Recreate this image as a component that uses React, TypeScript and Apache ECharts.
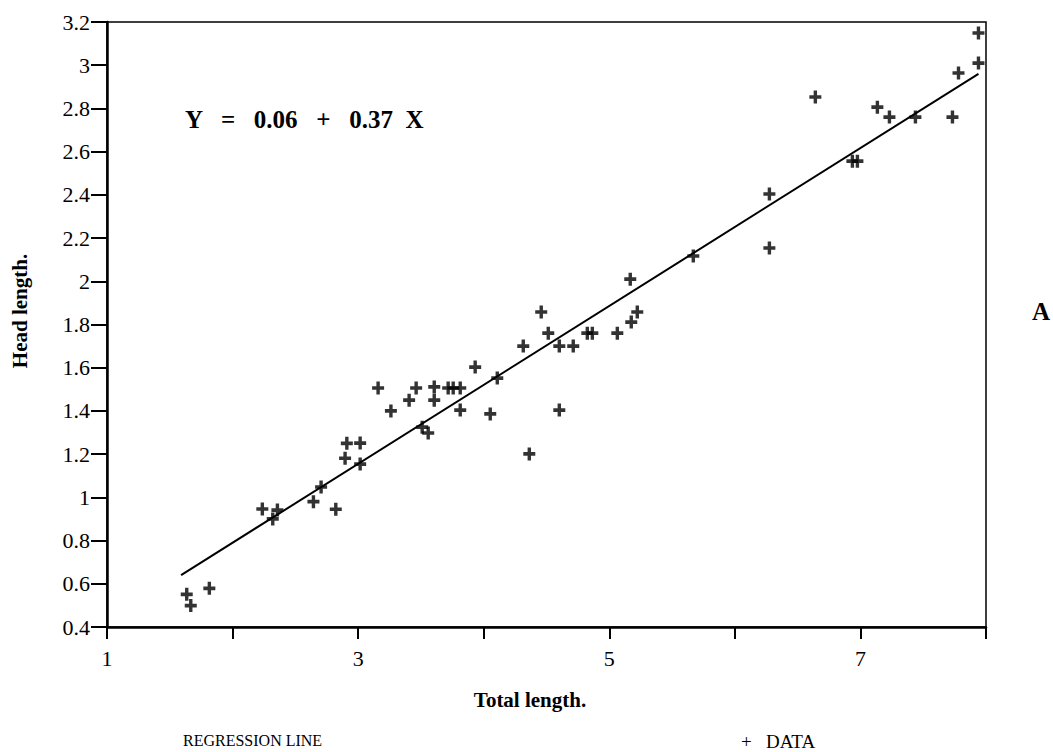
import React, { useEffect, useRef } from "react";
import * as echarts from "echarts";

// Total length (x) and head length (y) of each specimen
const totalLength = [
  1.635, 1.667, 1.815, 2.237, 2.32, 2.357, 2.644, 2.705, 2.822, 2.91,
  2.896, 3.016, 3.016, 3.159, 3.261, 3.406, 3.462, 3.51, 3.558, 3.606,
  3.606, 3.717, 3.757, 3.813, 3.813, 3.932, 4.052, 4.108, 4.315, 4.363,
  4.458, 4.514, 4.602, 4.602, 4.713, 4.825, 4.865, 5.064, 5.175, 5.223,
  5.167, 5.669, 6.275, 6.275, 6.641, 6.936, 6.976, 7.135, 7.231, 7.438,
  7.733, 7.781, 7.94, 7.94,
];
const headLength = [
  0.551, 0.499, 0.579, 0.946, 0.9, 0.941, 0.98, 1.048, 0.945, 1.25,
  1.181, 1.251, 1.154, 1.506, 1.4, 1.45, 1.506, 1.325, 1.298, 1.511,
  1.45, 1.506, 1.506, 1.506, 1.404, 1.603, 1.386, 1.552, 1.7, 1.201,
  1.858, 1.76, 1.7, 1.404, 1.7, 1.76, 1.76, 1.76, 1.811, 1.858,
  2.01, 2.117, 2.404, 2.154, 2.853, 2.556, 2.556, 2.806, 2.76, 2.76,
  2.76, 2.964, 3.01, 3.149,
];

// Regression line end points as drawn (Y = 0.06 + 0.37 X)
const regressionX = [1.59, 7.94];
const regressionY = [0.64, 2.96];

const xLabeledTicks = [1, 3, 5, 7];

const equationText = "Y   =   0.06   +   0.37  X";
const xAxisTitle = "Total length.";
const yAxisTitle = "Head length.";
const regressionLegend = "REGRESSION LINE";
const dataLegend = "+   DATA";
const panelLetter = "A";

const PLUS =
  "path://M4.3,0H7.7V4.3H12V7.7H7.7V12H4.3V7.7H0V4.3H4.3Z";

const SERIF = "'Liberation Serif', 'Times New Roman', serif";

export default function App() {
  const ref = useRef<HTMLDivElement>(null);

  useEffect(() => {
    if (!ref.current) return;
    const chart = echarts.init(ref.current, undefined, { renderer: "svg" });
    const points = totalLength.map((x, i) => [x, headLength[i]]);
    const line = regressionX.map((x, i) => [x, regressionY[i]]);

    chart.setOption({
      animation: false,
      backgroundColor: "#ffffff",
      textStyle: { fontFamily: SERIF, color: "#000" },
      grid: {
        left: 107,
        top: 22,
        right: 67,
        bottom: 125,
        show: true,
        borderColor: "#000",
        borderWidth: 1.5,
        backgroundColor: "transparent",
      },
      xAxis: {
        type: "value",
        min: 1,
        max: 8,
        interval: 1,
        axisLine: { show: true, onZero: false, lineStyle: { color: "#000", width: 2.5 } },
        axisTick: { show: true, inside: false, length: 12, lineStyle: { color: "#000", width: 2 } },
        splitLine: { show: false },
        axisLabel: {
          margin: 20,
          fontFamily: SERIF,
          fontSize: 22,
          color: "#000",
          formatter: (v: number) =>
            xLabeledTicks.indexOf(Math.round(v)) >= 0 ? String(Math.round(v)) : "",
        },
      },
      yAxis: {
        type: "value",
        min: 0.4,
        max: 3.2,
        interval: 0.2,
        axisLine: { show: true, onZero: false, lineStyle: { color: "#000", width: 2.5 } },
        axisTick: { show: true, inside: false, length: 16, lineStyle: { color: "#000", width: 2 } },
        splitLine: { show: false },
        axisLabel: {
          margin: 17,
          fontFamily: SERIF,
          fontSize: 22,
          color: "#000",
          formatter: (v: number) => String(Math.round(v * 10) / 10),
        },
      },
      series: [
        {
          name: "REGRESSION LINE",
          type: "line",
          data: line,
          showSymbol: false,
          symbol: "none",
          lineStyle: { color: "#000", width: 2 },
          z: 2,
        },
        {
          name: "DATA",
          type: "scatter",
          data: points,
          symbol: PLUS,
          symbolSize: [12, 13],
          itemStyle: { color: "#000" },
          z: 3,
        },
      ],
      graphic: [
        {
          type: "text",
          x: 185,
          y: 119,
          style: {
            text: equationText,
            font: `bold 25px ${SERIF}`,
            fill: "#000",
            textAlign: "left",
            textVerticalAlign: "middle",
          },
        },
        {
          type: "text",
          x: 530,
          y: 700,
          style: {
            text: xAxisTitle,
            font: `bold 21px ${SERIF}`,
            fill: "#000",
            textAlign: "center",
            textVerticalAlign: "middle",
          },
        },
        {
          type: "text",
          x: 20,
          y: 311,
          rotation: Math.PI / 2,
          style: {
            text: yAxisTitle,
            font: `bold 21px ${SERIF}`,
            fill: "#000",
            textAlign: "center",
            textVerticalAlign: "middle",
          },
        },
        {
          type: "text",
          x: 183,
          y: 740,
          style: {
            text: regressionLegend,
            font: `16px ${SERIF}`,
            fill: "#000",
            textAlign: "left",
            textVerticalAlign: "middle",
          },
        },
        {
          type: "text",
          x: 741,
          y: 741,
          style: {
            text: dataLegend,
            font: `19px ${SERIF}`,
            fill: "#000",
            textAlign: "left",
            textVerticalAlign: "middle",
          },
        },
        {
          type: "text",
          x: 1041,
          y: 311,
          style: {
            text: panelLetter,
            font: `bold 25px ${SERIF}`,
            fill: "#000",
            textAlign: "center",
            textVerticalAlign: "middle",
          },
        },
      ],
    });

    return () => chart.dispose();
  }, []);

  return (
    <div
      ref={ref}
      style={{ position: "absolute", left: 0, top: 0, width: 1053, height: 752 }}
    />
  );
}
